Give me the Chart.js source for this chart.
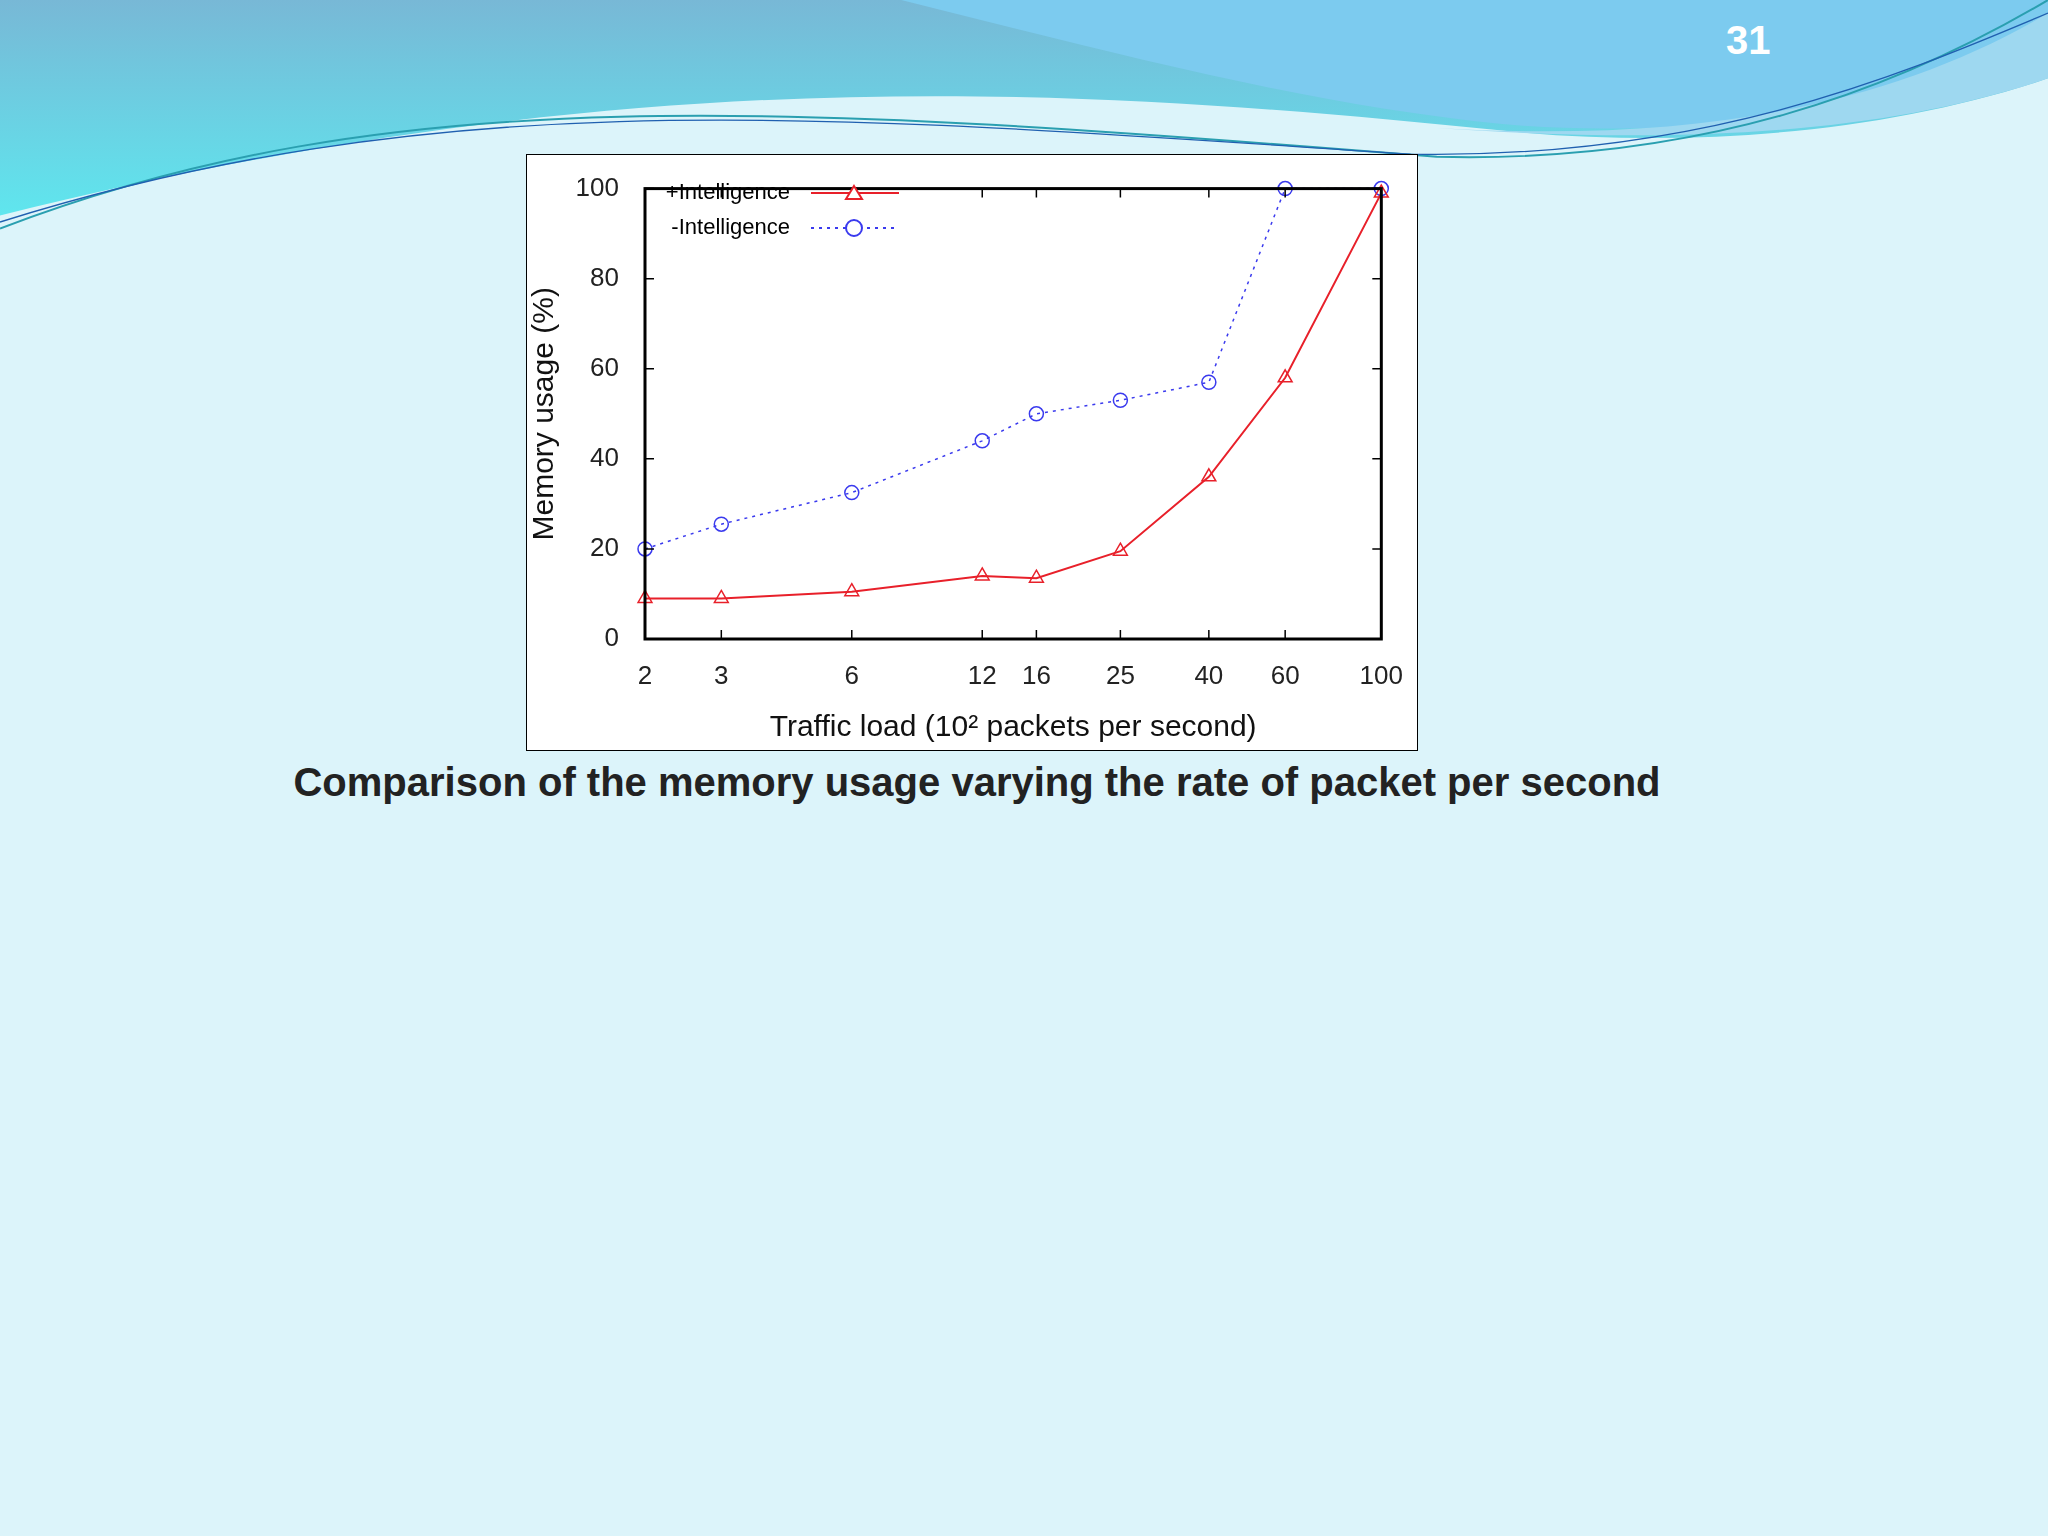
<!DOCTYPE html>
<html><head><meta charset="utf-8">
<script src="https://cdn.jsdelivr.net/npm/chart.js@4"></script>
<style>
body{margin:0;width:2048px;height:1536px;background:#dcf4fa;position:relative;overflow:hidden;font-family:"Liberation Sans",Arial,sans-serif}
#deco{position:absolute;left:0;top:0;width:2048px;height:1536px}
#box{position:absolute;left:526px;top:154px;width:890px;height:595px;background:#fff;border:1.5px solid #000}
#num{position:absolute;left:1726px;top:18px;color:#fff;font-weight:bold;font-size:40px}
#cap{position:absolute;left:0;width:1954px;top:760px;text-align:center;font-weight:bold;font-size:40px;color:#222}
</style></head><body>
<svg id="deco" viewBox="0 0 1568 1176" preserveAspectRatio="none">
<defs>
<linearGradient id="g2" x1="0" y1="0" x2="0" y2="1"><stop offset="0" stop-color="#78b8d6"/><stop offset="1" stop-color="#5fe6ee"/></linearGradient>
</defs>
<path d="M0,0 H1568 V60 C1450,100 1300,115 1150,100 C850,70 500,40 0,165 Z" fill="url(#g2)"/>
<path d="M690,0 H1568 V40 C1420,95 1260,105 1150,95 C1000,80 850,40 690,0 Z" fill="#7ccbef"/>
<path d="M1100,98 C1300,110 1450,80 1568,10 V60 C1450,100 1300,112 1100,98 Z" fill="#9ed8f0"/>
<path d="M0,175 C300,60 600,80 1100,120 C1300,125 1450,70 1568,0" fill="none" stroke="#2a9fb0" stroke-width="1.5"/>
<path d="M0,170 C350,60 650,90 1080,118 C1300,122 1450,60 1568,10" fill="none" stroke="#2060b0" stroke-width="1"/>
</svg>
<div id="num">31</div>
<div id="box"><canvas id="c" width="890" height="595"></canvas></div>
<div id="cap">Comparison of the memory usage varying the rate of packet per second</div>
<script>
const loads = [2, 3, 6, 12, 16, 25, 40, 60, 100];
const withIntel = [9, 9, 10.5, 14, 13.5, 19.5, 36, 58, 99];
const withoutIntel = [20, 25.5, 32.5, 44, 50, 53, 57, 100, 100];
const yTicks = [0, 20, 40, 60, 80, 100];

const F = '"Liberation Sans", Arial, sans-serif';

const frame = {
  id: 'frame',
  afterDraw(ch) {
    const {ctx, chartArea: a, scales: {x, y}} = ch;
    ctx.save();
    ctx.strokeStyle = '#000';
    ctx.lineWidth = 1.5;
    const t = 9;
    loads.forEach(v => {
      const px = x.getPixelForValue(v);
      ctx.beginPath(); ctx.moveTo(px, a.bottom); ctx.lineTo(px, a.bottom - t);
      ctx.moveTo(px, a.top); ctx.lineTo(px, a.top + t); ctx.stroke();
    });
    yTicks.forEach(v => {
      const py = y.getPixelForValue(v);
      ctx.beginPath(); ctx.moveTo(a.left, py); ctx.lineTo(a.left + t, py);
      ctx.moveTo(a.right, py); ctx.lineTo(a.right - t, py); ctx.stroke();
    });
    ctx.lineWidth = 3;
    ctx.strokeRect(a.left, a.top, a.right - a.left, a.bottom - a.top);
    // legend
    ctx.font = '22px ' + F;
    ctx.fillStyle = '#000';
    ctx.textAlign = 'right';
    ctx.textBaseline = 'middle';
    const rows = [
      ['+Intelligence', '#e8202a', [], 'tri', 192],
      ['-Intelligence', '#3a3aee', [3, 5], 'circ', 227]
    ];
    rows.forEach(([txt, col, dash, mk, ry]) => {
      ctx.fillText(txt, 263, ry - 154);
      const yy = ry - 154;
      ctx.strokeStyle = col; ctx.lineWidth = 2; ctx.setLineDash(dash);
      ctx.beginPath(); ctx.moveTo(284, yy); ctx.lineTo(372, yy); ctx.stroke();
      ctx.setLineDash([]);
      ctx.beginPath();
      if (mk === 'tri') { ctx.moveTo(327, yy - 7); ctx.lineTo(335, yy + 6); ctx.lineTo(319, yy + 6); ctx.closePath(); }
      else ctx.arc(327, yy, 8, 0, Math.PI * 2);
      ctx.fillStyle = '#fff'; ctx.fill(); ctx.stroke();
      ctx.fillStyle = '#000';
    });
    ctx.restore();
  }
};

new Chart(document.getElementById('c'), {
  type: 'line',
  data: {
    datasets: [
      { label: '+Intelligence', data: loads.map((v, i) => ({x: v, y: withIntel[i]})),
        borderColor: '#e8202a', borderWidth: 2, pointStyle: 'triangle', pointRadius: 8,
        pointBackgroundColor: 'rgba(0,0,0,0)', pointBorderColor: '#e8202a', pointBorderWidth: 1.5, clip: false },
      { label: '-Intelligence', data: loads.map((v, i) => ({x: v, y: withoutIntel[i]})),
        borderColor: '#3a3aee', borderWidth: 1.5, borderDash: [3, 5], pointStyle: 'circle', pointRadius: 7,
        pointBackgroundColor: 'rgba(0,0,0,0)', pointBorderColor: '#3a3aee', pointBorderWidth: 1.5, clip: false }
    ]
  },
  options: {
    responsive: false, animation: false,
    layout: { padding: { left: 0, right: 31, top: 1, bottom: 0 } },
    plugins: { legend: { display: false }, tooltip: { enabled: false } },
    scales: {
      x: {
        type: 'logarithmic', min: 2, max: 100,
        afterBuildTicks: s => { s.ticks = loads.map(v => ({value: v})); },
        afterFit: s => { s.height = 111; },
        grid: { display: false }, border: { display: false },
        ticks: { color: '#222', font: { size: 26, family: F }, padding: 14, maxRotation: 0, autoSkip: false,
          callback: v => String(v) },
        title: { display: true, text: 'Traffic load (10² packets per second)', color: '#111',
          font: { size: 30, family: F }, padding: { top: 6 } }
      },
      y: {
        min: 0, max: 100,
        afterBuildTicks: s => { s.ticks = yTicks.map(v => ({value: v})); },
        afterFit: s => { s.width = 118; },
        grid: { display: false }, border: { display: false },
        ticks: { color: '#222', font: { size: 26, family: F }, padding: 18 },
        title: { display: true, text: 'Memory usage (%)', color: '#111', font: { size: 30, family: F }, padding: 0 }
      }
    }
  },
  plugins: [frame]
});
</script>
</body></html>
